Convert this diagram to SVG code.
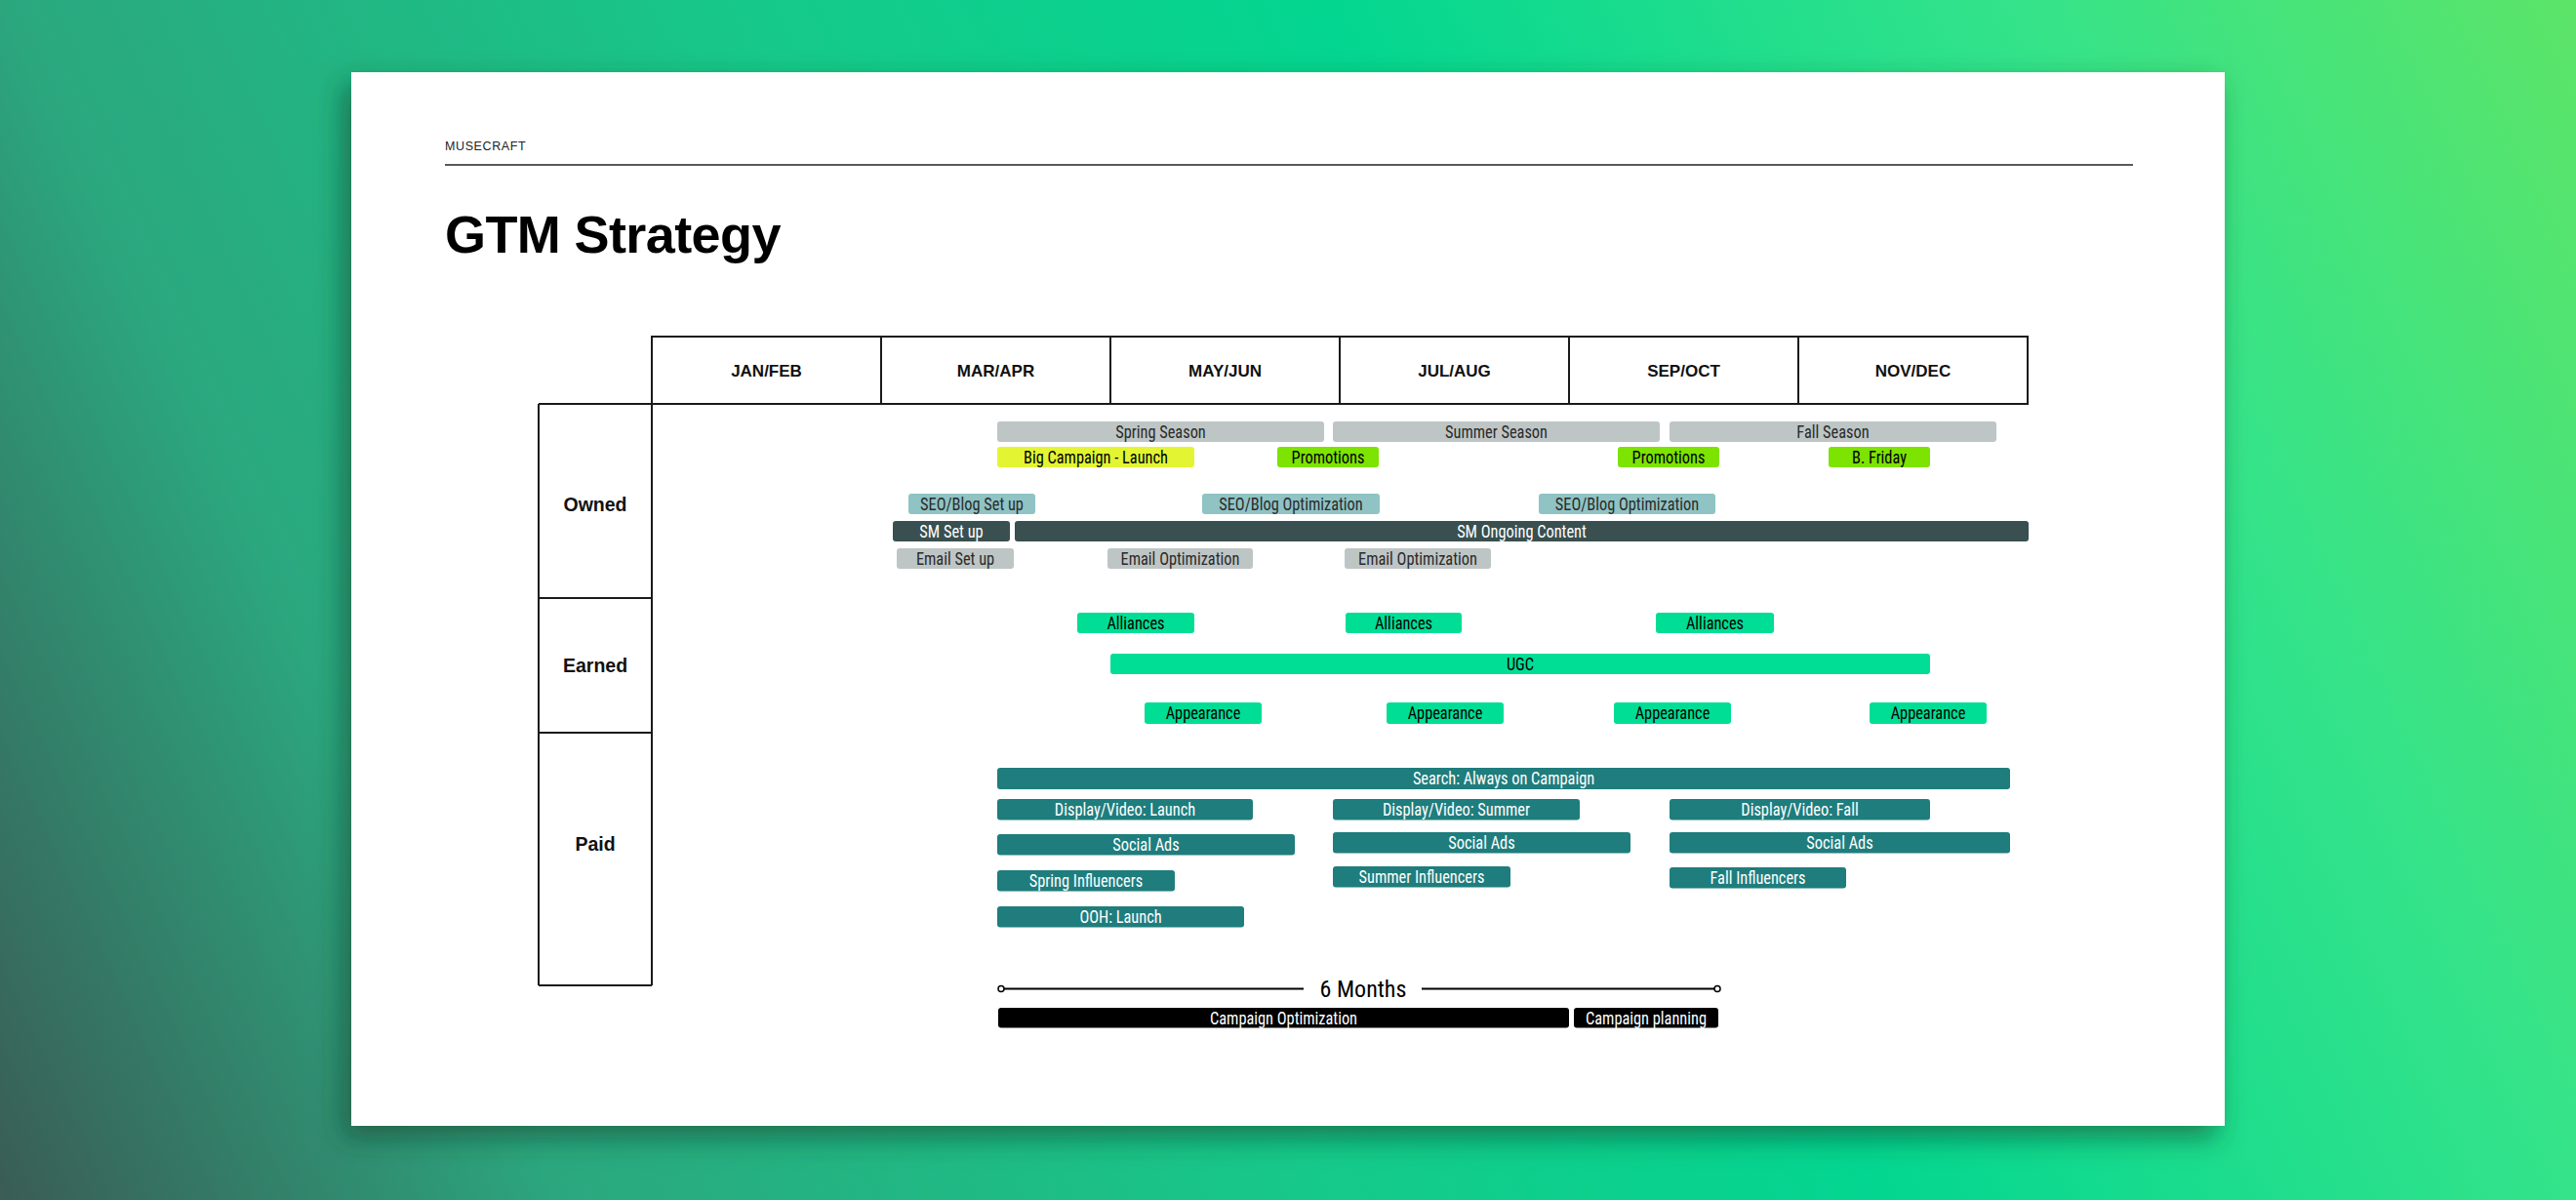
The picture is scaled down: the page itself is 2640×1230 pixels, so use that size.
<svg xmlns="http://www.w3.org/2000/svg" width="2640" height="1230" viewBox="0 0 2640 1230">
<defs>
<linearGradient id="bg" gradientUnits="userSpaceOnUse" x1="0" y1="1230" x2="2640" y2="0">
<stop offset="0" stop-color="#3a5c55"/>
<stop offset="0.18" stop-color="#2ba77e"/>
<stop offset="0.42" stop-color="#16c98a"/>
<stop offset="0.6" stop-color="#03d690"/>
<stop offset="0.82" stop-color="#34e38a"/>
<stop offset="1" stop-color="#5ce468"/>
</linearGradient>
<filter id="shadow" x="-10%" y="-10%" width="120%" height="125%">
<feDropShadow dx="-8" dy="12" stdDeviation="14" flood-color="#0d3a2c" flood-opacity="0.55"/>
</filter>
<style>
.bar{rx:3px;ry:3px}
.t{font-family:"Liberation Sans Narrow","Roboto Condensed","DejaVu Sans Condensed",Roboto,"Liberation Sans",sans-serif;font-stretch:condensed;font-size:18.8px;text-anchor:middle;dominant-baseline:central;transform-box:fill-box;transform-origin:center;transform:scaleX(0.87)}
.six{font-family:"Liberation Sans Narrow","Roboto Condensed","DejaVu Sans Condensed",Roboto,"Liberation Sans",sans-serif;font-stretch:condensed;font-size:24px;text-anchor:middle;dominant-baseline:central;fill:#000}
.gray{fill:#bec5c5}
.yel{fill:#e3f532}
.grn{fill:#7de300}
.seo{fill:#8fc3c4}
.sm{fill:#394f50}
.earn{fill:#00de95}
.paid{fill:#1f7d7d}
.blk{fill:#000}
.dk{fill:#2a2a2a}
.wh{fill:#ffffff}
.bk{fill:#000}
.grid{stroke:#1a1a1a;stroke-width:2;fill:none}
.mon{font-family:"Liberation Sans",Arial,sans-serif;font-weight:bold;font-size:17px;text-anchor:middle;dominant-baseline:central;fill:#111}
.lab{font-family:"Liberation Sans",Arial,sans-serif;font-weight:bold;font-size:19.5px;text-anchor:middle;dominant-baseline:central;fill:#111}
</style>
</defs>
<rect width="2640" height="1230" fill="url(#bg)"/>
<rect x="360" y="74" width="1920" height="1080" fill="#ffffff" filter="url(#shadow)"/>
<rect x="360" y="74" width="1920" height="1080" fill="#ffffff"/>

<g id="header">
<text x="456" y="154" font-family="Liberation Sans, Arial, sans-serif" font-size="12.5" letter-spacing="0.6" fill="#222">MUSECRAFT</text>
<line x1="456" y1="169" x2="2186" y2="169" stroke="#222" stroke-width="1.6"/>
<text x="456" y="259" font-family="Liberation Sans, Arial, sans-serif" font-weight="bold" font-size="54" letter-spacing="-0.6" fill="#000">GTM Strategy</text>
</g>

<g id="table">
<rect class="grid" x="668" y="345" width="1410" height="69"/>
<line class="grid" x1="903" y1="345" x2="903" y2="414"/>
<line class="grid" x1="1138" y1="345" x2="1138" y2="414"/>
<line class="grid" x1="1373" y1="345" x2="1373" y2="414"/>
<line class="grid" x1="1608" y1="345" x2="1608" y2="414"/>
<line class="grid" x1="1843" y1="345" x2="1843" y2="414"/>
<line class="grid" x1="552" y1="414" x2="668" y2="414"/>
<line class="grid" x1="552" y1="414" x2="552" y2="1010"/>
<line class="grid" x1="668" y1="414" x2="668" y2="1010"/>
<line class="grid" x1="552" y1="613" x2="668" y2="613"/>
<line class="grid" x1="552" y1="751" x2="668" y2="751"/>
<line class="grid" x1="552" y1="1010" x2="668" y2="1010"/>
<text class="mon" x="785.5" y="380">JAN/FEB</text>
<text class="mon" x="1020.5" y="380">MAR/APR</text>
<text class="mon" x="1255.5" y="380">MAY/JUN</text>
<text class="mon" x="1490.5" y="380">JUL/AUG</text>
<text class="mon" x="1725.5" y="380">SEP/OCT</text>
<text class="mon" x="1960.5" y="380">NOV/DEC</text>
<text class="lab" x="610" y="517">Owned</text>
<text class="lab" x="610" y="682">Earned</text>
<text class="lab" x="610" y="865">Paid</text>
</g>

<g id="owned">
<g id="spring-season"><rect class="bar gray" x="1022" y="432" width="335" height="21"/><text class="t dk" x="1189.5" y="443">Spring Season</text></g>
<g id="summer-season"><rect class="bar gray" x="1366" y="432" width="335" height="21"/><text class="t dk" x="1533.5" y="443">Summer Season</text></g>
<g id="fall-season"><rect class="bar gray" x="1711" y="432" width="335" height="21"/><text class="t dk" x="1878.5" y="443">Fall Season</text></g>
<g id="big-campaign"><rect class="bar yel" x="1022" y="458" width="202" height="21"/><text class="t bk" x="1123" y="469">Big Campaign - Launch</text></g>
<g id="promotions-1"><rect class="bar grn" x="1309" y="458" width="104" height="21"/><text class="t bk" x="1361" y="469">Promotions</text></g>
<g id="promotions-2"><rect class="bar grn" x="1658" y="458" width="104" height="21"/><text class="t bk" x="1710" y="469">Promotions</text></g>
<g id="b-friday"><rect class="bar grn" x="1874" y="458" width="104" height="21"/><text class="t bk" x="1926" y="469">B. Friday</text></g>
<g id="seo-setup"><rect class="bar seo" x="931" y="506" width="130" height="21"/><text class="t dk" x="996" y="517">SEO/Blog Set up</text></g>
<g id="seo-opt-1"><rect class="bar seo" x="1232" y="506" width="182" height="21"/><text class="t dk" x="1323" y="517">SEO/Blog Optimization</text></g>
<g id="seo-opt-2"><rect class="bar seo" x="1577" y="506" width="181" height="21"/><text class="t dk" x="1667.5" y="517">SEO/Blog Optimization</text></g>
<g id="sm-setup"><rect class="bar sm" x="915" y="534" width="120" height="21"/><text class="t wh" x="975" y="545">SM Set up</text></g>
<g id="sm-ongoing"><rect class="bar sm" x="1040" y="534" width="1039" height="21"/><text class="t wh" x="1559.5" y="545">SM Ongoing Content</text></g>
<g id="email-setup"><rect class="bar gray" x="919" y="562" width="120" height="21"/><text class="t dk" x="979" y="573">Email Set up</text></g>
<g id="email-opt-1"><rect class="bar gray" x="1135" y="562" width="149" height="21"/><text class="t dk" x="1209.5" y="573">Email Optimization</text></g>
<g id="email-opt-2"><rect class="bar gray" x="1378" y="562" width="150" height="21"/><text class="t dk" x="1453" y="573">Email Optimization</text></g>
</g>

<g id="earned">
<g id="alliances-1"><rect class="bar earn" x="1104" y="628" width="120" height="21"/><text class="t bk" x="1164" y="639">Alliances</text></g>
<g id="alliances-2"><rect class="bar earn" x="1379" y="628" width="119" height="21"/><text class="t bk" x="1438.5" y="639">Alliances</text></g>
<g id="alliances-3"><rect class="bar earn" x="1697" y="628" width="121" height="21"/><text class="t bk" x="1757.5" y="639">Alliances</text></g>
<g id="ugc"><rect class="bar earn" x="1138" y="670" width="840" height="21"/><text class="t bk" x="1558" y="681">UGC</text></g>
<g id="appearance-1"><rect class="bar earn" x="1173" y="720" width="120" height="22"/><text class="t bk" x="1233" y="731">Appearance</text></g>
<g id="appearance-2"><rect class="bar earn" x="1421" y="720" width="120" height="22"/><text class="t bk" x="1481" y="731">Appearance</text></g>
<g id="appearance-3"><rect class="bar earn" x="1654" y="720" width="120" height="22"/><text class="t bk" x="1714" y="731">Appearance</text></g>
<g id="appearance-4"><rect class="bar earn" x="1916" y="720" width="120" height="22"/><text class="t bk" x="1976" y="731">Appearance</text></g>
</g>

<g id="paid">
<g id="search"><rect class="bar paid" x="1022" y="787" width="1038" height="22"/><text class="t wh" x="1541" y="798">Search: Always on Campaign</text></g>
<g id="display-launch"><rect class="bar paid" x="1022" y="819" width="262" height="21.5"/><text class="t wh" x="1153" y="830">Display/Video: Launch</text></g>
<g id="display-summer"><rect class="bar paid" x="1366" y="819" width="253" height="21.5"/><text class="t wh" x="1492.5" y="830">Display/Video: Summer</text></g>
<g id="display-fall"><rect class="bar paid" x="1711" y="819" width="267" height="21.5"/><text class="t wh" x="1844.5" y="830">Display/Video: Fall</text></g>
<g id="social-1"><rect class="bar paid" x="1022" y="855" width="305" height="21.5"/><text class="t wh" x="1174.5" y="866">Social Ads</text></g>
<g id="social-2"><rect class="bar paid" x="1366" y="853" width="305" height="21.5"/><text class="t wh" x="1518.5" y="864">Social Ads</text></g>
<g id="social-3"><rect class="bar paid" x="1711" y="853" width="349" height="21.5"/><text class="t wh" x="1885.5" y="864">Social Ads</text></g>
<g id="spring-influencers"><rect class="bar paid" x="1022" y="892" width="182" height="21.5"/><text class="t wh" x="1113" y="903">Spring Influencers</text></g>
<g id="summer-influencers"><rect class="bar paid" x="1366" y="888" width="182" height="21.5"/><text class="t wh" x="1457" y="899">Summer Influencers</text></g>
<g id="fall-influencers"><rect class="bar paid" x="1711" y="889" width="181" height="21.5"/><text class="t wh" x="1801.5" y="900">Fall Influencers</text></g>
<g id="ooh-launch"><rect class="bar paid" x="1022" y="929" width="253" height="21.5"/><text class="t wh" x="1148.5" y="940">OOH: Launch</text></g>
</g>

<g id="connectors">
<line x1="1026" y1="1013.5" x2="1336" y2="1013.5" stroke="#000" stroke-width="2"/>
<line x1="1457" y1="1013.5" x2="1760" y2="1013.5" stroke="#000" stroke-width="2"/>
<circle cx="1026" cy="1013.5" r="3" fill="#fff" stroke="#000" stroke-width="1.5"/>
<circle cx="1760" cy="1013.5" r="3" fill="#fff" stroke="#000" stroke-width="1.5"/>
</g>

<g id="timeline">
<text class="six" x="1397" y="1014">6 Months</text>
<g id="campaign-optimization"><rect class="bar blk" x="1023" y="1033" width="585" height="20.5"/><text class="t wh" x="1315.5" y="1043.5">Campaign Optimization</text></g>
<g id="campaign-planning"><rect class="bar blk" x="1613" y="1033" width="148" height="20.5"/><text class="t wh" x="1687" y="1043.5">Campaign planning</text></g>
</g>
</svg>
